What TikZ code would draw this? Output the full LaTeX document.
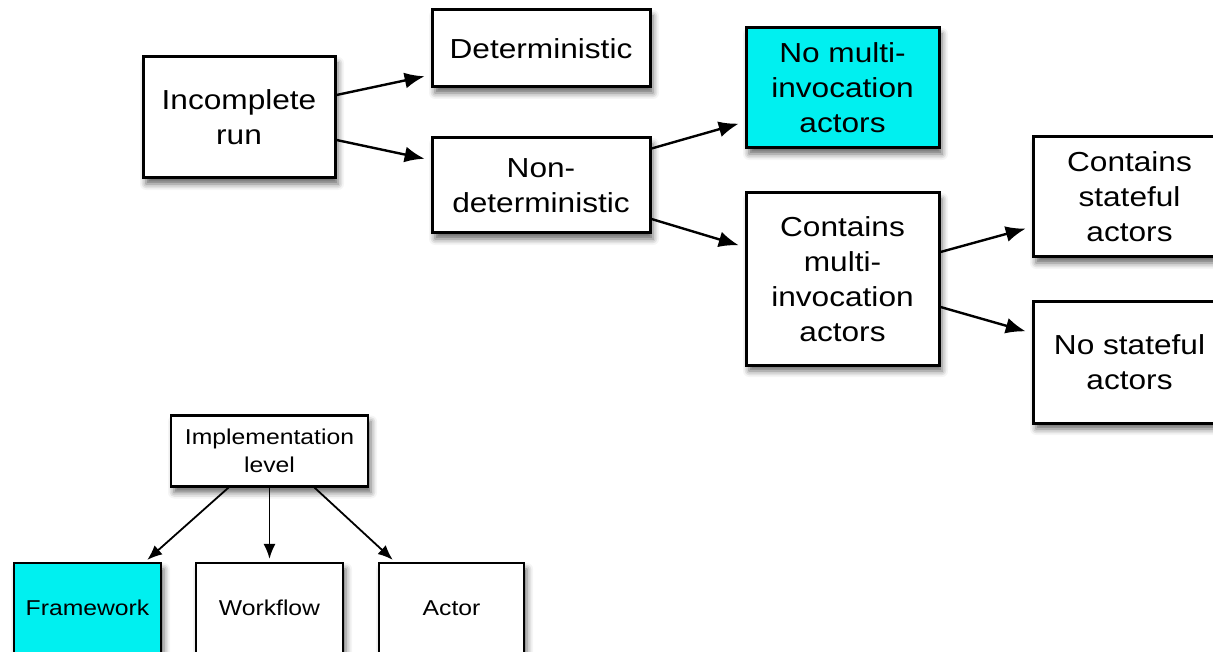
\documentclass[tikz,border=0pt]{standalone}
\usepackage{fontspec}
\setmainfont{Liberation Sans}[FakeStretch=1.15]
\usetikzlibrary{arrows.meta,shadows.blur}
\definecolor{boxcyan}{RGB}{0,240,240}
\tikzset{
  basebox/.style={draw=black, fill=white, align=center, inner sep=0pt,
    blur shadow={shadow xshift=3pt, shadow yshift=-6pt,
                 shadow blur radius=6pt, shadow opacity=60}},
  bigbox/.style={basebox, line width=3pt, font=\fontsize{27.5}{35}\selectfont},
  smallbox/.style={basebox, line width=2.2pt, font=\fontsize{21.5}{28}\selectfont},
  hl/.style={fill=boxcyan},
  bigarrow/.style={line width=2.4pt, -{Latex[length=20pt,width=16pt]}, shorten >=6pt},
  smallarrow/.style={line width=1.8pt, -{Latex[length=15pt,width=12pt]}, shorten >=3pt},
}
\begin{document}
\begin{tikzpicture}[x=1pt,y=-1pt]
\useasboundingbox (0,0) rectangle (1213,652);
\clip (0,0) rectangle (1213,652);

% run classification tree
\node[bigbox, minimum width=192pt, minimum height=121pt] (inc) at (239,117.5) {Incomplete\\run};
\node[bigbox, minimum width=218pt, minimum height=77pt] (det) at (541,48.5) {Deterministic};
\node[bigbox, minimum width=218pt, minimum height=95pt] (nondet) at (541,185.5) {Non-\\deterministic};
\node[bigbox, hl, minimum width=193pt, minimum height=120pt] (nomulti) at (842.5,88) {No multi-\\invocation\\actors};
\node[bigbox, minimum width=193pt, minimum height=172pt] (multi) at (842.5,279) {Contains\\multi-\\invocation\\actors};
\node[bigbox, minimum width=193pt, minimum height=120pt] (stateful) at (1129.5,197) {Contains\\stateful\\actors};
\node[bigbox, minimum width=193pt, minimum height=121pt] (nostate) at (1129.5,362.5) {No stateful\\actors};

\draw[bigarrow] ([yshift=22.5pt]inc.east) -- ([yshift=-26.5pt]det.west);
\draw[bigarrow] ([yshift=-22.5pt]inc.east) -- ([yshift=25.5pt]nondet.west);
\draw[bigarrow] ([yshift=37pt]nondet.east) -- ([yshift=-34pt]nomulti.west);
\draw[bigarrow] ([yshift=-33.5pt]nondet.east) -- ([yshift=32pt]multi.west);
\draw[bigarrow] ([yshift=27pt]multi.east) -- ([yshift=-30pt]stateful.west);
\draw[bigarrow] ([yshift=-28pt]multi.east) -- ([yshift=29.5pt]nostate.west);

% implementation level tree
\node[smallbox, minimum width=197pt, minimum height=71pt] (impl) at (269.5,451) {Implementation\\level};
\node[smallbox, hl, minimum width=147pt, minimum height=90pt] (fw) at (87.5,608) {Framework};
\node[smallbox, minimum width=147pt, minimum height=90pt] (wf) at (269.5,608) {Workflow};
\node[smallbox, minimum width=145pt, minimum height=90pt] (act) at (451.5,608) {Actor};

\draw[smallarrow] ([xshift=-41pt]impl.south) -- ([xshift=57.5pt]fw.north);
\draw[smallarrow] (impl.south) -- (wf.north);
\draw[smallarrow] ([xshift=45pt]impl.south) -- ([xshift=-56.5pt]act.north);
\end{tikzpicture}
\end{document}
